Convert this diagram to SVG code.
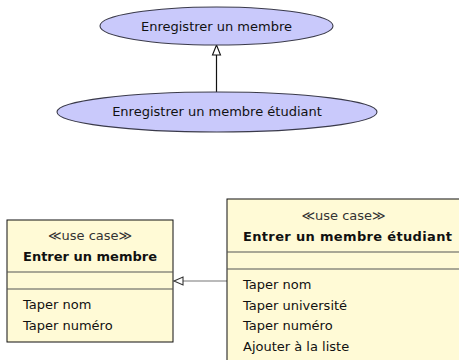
<svg xmlns="http://www.w3.org/2000/svg" width="459" height="360" viewBox="0 0 459 360">
  <style>
    text { font-family: "DejaVu Sans", "Liberation Sans", sans-serif; font-size: 13px; fill: #111; }
    .uc { fill: #c9c9fb; stroke: #3a3a4a; stroke-width: 1.1; }
    .cls { fill: #fffad6; stroke: #111; stroke-width: 1; }
    .sep { stroke: #555; stroke-width: 1.2; }
    .stereo { fill: #333; }
    .title { font-weight: bold; }
    .edge { fill: none; stroke-width: 1.2; }
    .head { fill: #fff; stroke-width: 1.1; }
  </style>

  <!-- generalisation between the two use cases -->
  <g id="connectors">
    <line class="edge" x1="216.5" y1="92" x2="216.5" y2="55" stroke="#111"/>
    <polygon class="head" points="216.5,45 212.5,55 220.5,55" stroke="#111"/>
    <line class="edge" x1="227" y1="281" x2="183" y2="281" stroke="#777"/>
    <polygon class="head" points="174,281 183,277 183,285" stroke="#333"/>
  </g>

  <g id="uc-enregistrer">
    <ellipse class="uc" cx="216.5" cy="26" rx="116.5" ry="19"/>
    <text x="216.5" y="31" text-anchor="middle">Enregistrer un membre</text>
  </g>

  <g id="uc-enregistrer-etudiant">
    <ellipse class="uc" cx="217" cy="112" rx="160" ry="20"/>
    <text x="217" y="116" text-anchor="middle">Enregistrer un membre étudiant</text>
  </g>

  <g id="cls-entrer">
    <rect class="cls" x="7" y="220" width="166" height="122"/>
    <line class="sep" x1="7" y1="272" x2="173" y2="272"/>
    <line class="sep" x1="7" y1="289" x2="173" y2="289"/>
    <text class="stereo" x="90" y="240" text-anchor="middle">≪use case≫</text>
    <text class="title" x="90" y="261" text-anchor="middle">Entrer un membre</text>
    <text x="23" y="309">Taper nom</text>
    <text x="23" y="330">Taper numéro</text>
  </g>

  <g id="cls-entrer-etudiant">
    <rect class="cls" x="227" y="199" width="245" height="175"/>
    <line class="sep" x1="227" y1="252" x2="472" y2="252"/>
    <line class="sep" x1="227" y1="269" x2="472" y2="269"/>
    <text class="stereo" x="343.5" y="220" text-anchor="middle">≪use case≫</text>
    <text class="title" x="243" y="241" textLength="209" lengthAdjust="spacing">Entrer un membre étudiant</text>
    <text x="243" y="289">Taper nom</text>
    <text x="243" y="310">Taper université</text>
    <text x="243" y="330">Taper numéro</text>
    <text x="243" y="351">Ajouter à la liste</text>
  </g>
</svg>
